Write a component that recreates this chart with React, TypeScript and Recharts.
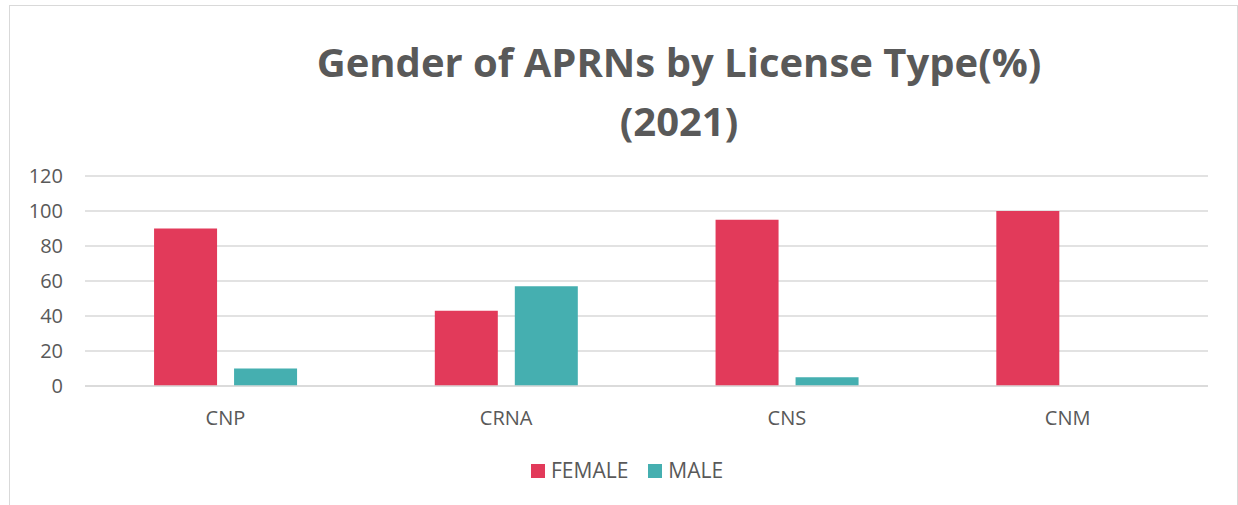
import { BarChart, Bar, XAxis, YAxis, CartesianGrid } from "recharts";

const licenseTypes = ["CNP", "CRNA", "CNS", "CNM"];
const femalePct = [90, 43, 95, 100];
const malePct = [10, 57, 5, 0];
const yTicks = [0, 20, 40, 60, 80, 100, 120];

const data = licenseTypes.map((type, i) => ({
  type,
  female: femalePct[i],
  male: malePct[i],
}));

const FEMALE = "#E23A5A";
const MALE = "#45AFB0";
const TEXT = "#595959";
const GRID = "#d9d9d9";
const FONT = "'Open Sans', sans-serif";

export default function App() {
  return (
    <div
      style={{
        position: "absolute",
        left: 0,
        top: 0,
        width: 1238,
        height: 505,
        overflow: "hidden",
        background: "#fff",
        fontFamily: FONT,
      }}
    >
      <div
        style={{
          position: "absolute",
          left: 9,
          top: 5,
          width: 1227,
          height: 520,
          border: `1px solid ${GRID}`,
        }}
      />
      <div
        style={{
          position: "absolute",
          left: 0,
          width: 1358,
          top: 32,
          textAlign: "center",
          color: TEXT,
          fontWeight: 700,
          fontSize: 40,
          lineHeight: "59px",
        }}
      >
        Gender of APRNs by License Type(%)
        <br />
        (2021)
      </div>
      <div style={{ position: "absolute", left: 0, top: 0 }}>
        <BarChart
          width={1238}
          height={505}
          data={data}
          margin={{ top: 176, right: 30, left: 0, bottom: 69 }}
          barGap={17}
          barCategoryGap="24.6%"
        >
          <CartesianGrid vertical={false} stroke={GRID} strokeWidth={1.5} />
          <XAxis
            dataKey="type"
            axisLine={{ stroke: GRID, strokeWidth: 1.5 }}
            tickLine={false}
            tickSize={0}
            tickMargin={25}
            height={50}
            tick={{ fill: TEXT, fontSize: 20, fontFamily: FONT }}
          />
          <YAxis
            domain={[0, 120]}
            ticks={yTicks}
            width={85}
            axisLine={false}
            tickLine={false}
            tickSize={0}
            tickMargin={22}
            interval={0}
            tick={{ fill: TEXT, fontSize: 20, fontFamily: FONT }}
          />
          <Bar dataKey="female" fill={FEMALE} isAnimationActive={false} />
          <Bar dataKey="male" fill={MALE} isAnimationActive={false} />
        </BarChart>
      </div>
      <div
        style={{
          position: "absolute",
          top: 456,
          left: 531,
          display: "flex",
          alignItems: "center",
          color: TEXT,
          fontSize: 21,
          lineHeight: "29px",
        }}
      >
        <span style={{ width: 14, height: 14, background: FEMALE, marginRight: 6 }} />
        <span style={{ marginRight: 20 }}>FEMALE</span>
        <span style={{ width: 14, height: 14, background: MALE, marginRight: 6 }} />
        <span>MALE</span>
      </div>
    </div>
  );
}
